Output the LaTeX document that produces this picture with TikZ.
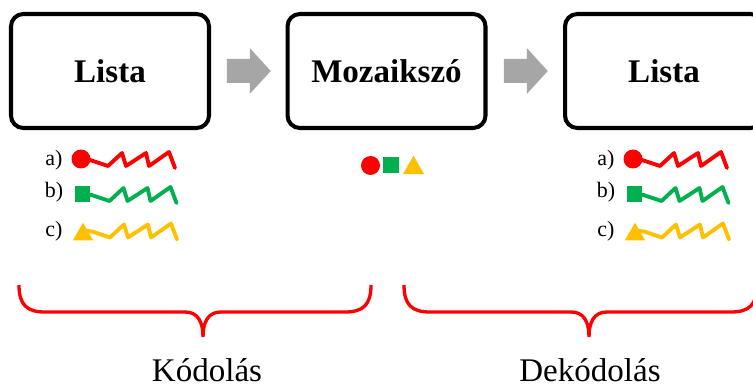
\documentclass[tikz,border=0pt]{standalone}
\usepackage{fontspec}
\setmainfont{Liberation Serif}
\usetikzlibrary{calc,shapes.geometric}

\definecolor{ored}{HTML}{FF0000}
\definecolor{ogreen}{HTML}{00B050}
\definecolor{oyellow}{HTML}{FFC000}
\definecolor{ogray}{HTML}{A6A6A6}

\tikzset{
  box/.style={draw, line width=2.3pt, rounded corners=7pt,
    minimum width=3.96cm, minimum height=2.28cm,
    font=\fontsize{18.8}{22}\selectfont\bfseries},
  lbl/.style={font=\fontsize{12.5}{15}\selectfont},
  phase/.style={font=\fontsize{18.8}{22}\selectfont, anchor=base, inner sep=0pt},
  dot/.style={circle, fill=#1, inner sep=0pt, minimum size=0.38cm},
  sq/.style={rectangle, fill=#1, inner sep=0pt, minimum size=0.31cm},
  tri/.style={regular polygon, regular polygon sides=3, fill=#1,
    inner sep=0pt, minimum size=0.47cm},
  wig/.style={line width=2.2pt, line join=round, line cap=round},
  brace/.style={draw=ored, line width=1.9pt},
}

\newcommand\wiggle[2]{%
  \draw[wig,#1] (#2) -- ++(9,1) -- ++(18,6) -- ++(14,-13) -- ++(4,13)
    -- ++(20,-13) -- ++(3,13) -- ++(20,-14) -- ++(6,16);}

\newcommand\blockarrow[2]{%
  \path ($(#1.east)!0.5!(#2.west)$) coordinate (m);
  \fill[ogray] (m) ++(-21.5,-12) -- ++(23,0) -- ++(0,-11) -- ++(21,23)
    -- ++(-21,23) -- ++(0,-11) -- ++(-23,0) -- cycle;}

\begin{document}
\begin{tikzpicture}[x=0.02cm, y=-0.02cm]
    \useasboundingbox (0,0) rectangle (753,384);

    \node[box] (lista1) at (110,71) {Lista};
    \node[box] (mozaik) at (386.5,71) {Mozaikszó};
    \node[box] (lista2) at (664,71) {Lista};

    \blockarrow{lista1}{mozaik}
    \blockarrow{mozaik}{lista2}

    % lists on both sides
    \foreach \side/\dx in {l/0, r/552} {
      \begin{scope}[shift={(\dx,0)}]
        \node[lbl] (\side a) at (54,160) {a)};
        \node[lbl] (\side b) at (54,192) {b)};
        \node[lbl] (\side c) at (54,231) {c)};
        \node[dot=ored] (\side dot) at (81,159) {};
        \node[sq=ogreen] (\side sq) at (82.5,194) {};
        \node[tri=oyellow] (\side tri) at (83,234.5) {};
        \wiggle{ored}{\side dot.center}
        \wiggle{ogreen}{\side sq.center}
        \wiggle{oyellow}{$(\side tri.center)+(0,-4)$}
      \end{scope}
    }

    \node[dot=ored] (mdot) at (370.5,165.5) {};
    \node[sq=ogreen] (msq) at (391,165) {};
    \node[tri=oyellow, minimum size=0.49cm] (mtri) at (413.5,168) {};

    \draw[brace] (19,285) .. controls (19,305) and (27,312) .. (45,312)
      -- (185,312) .. controls (198,312) and (203,322) .. (203,337)
      .. controls (203,322) and (208,312) .. (221,312)
      -- (345,312) .. controls (363,312) and (371,305) .. (371,285);
    \draw[brace] (404,285) .. controls (404,305) and (412,312) .. (430,312)
      -- (571,312) .. controls (584,312) and (589,322) .. (589,337)
      .. controls (589,322) and (594,312) .. (607,312)
      -- (731,312) .. controls (749,312) and (757,305) .. (757,285);

    \node[phase] (kod) at (207,381) {Kódolás};
    \node[phase] (dekod) at (590,381) {Dekódolás};
\end{tikzpicture}
\end{document}
